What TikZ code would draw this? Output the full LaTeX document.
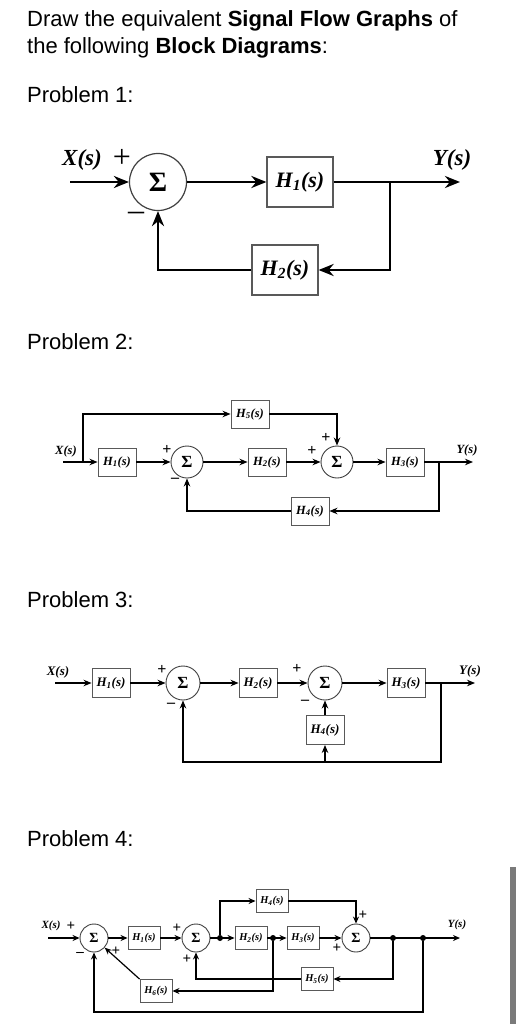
\documentclass[tikz,border=0pt]{standalone}
\usepackage{fontspec}
\setmainfont{Liberation Sans}
\newfontfamily\blockfont{Liberation Serif}
\usetikzlibrary{arrows.meta}
\newcommand\bfit[1]{\fontsize{#1}{#1}\selectfont\blockfont\bfseries\itshape}
\newcommand\sigfont[1]{\fontsize{#1}{#1}\selectfont\blockfont\bfseries}

\begin{document}
\begin{tikzpicture}[x=1pt, y=-1pt,
				box/.style={draw=black!65, line width=0.9pt, inner sep=0pt, fill=white, minimum width=38pt, minimum height=28pt, font=\bfit{12.5}},
				sumnode/.style={draw=black!75, circle, line width=0.9pt, inner sep=0pt, fill=white, minimum size=32pt, font=\sigfont{17}},
				arr/.style={-{Stealth[length=8pt, width=6.5pt]}, line width=1.4pt},
				lbl/.style={inner sep=0pt, font=\bfit{12.5}},
				sign/.style={inner sep=0pt, font=\sigfont{16}},
				dot/.style={circle, fill=black, inner sep=0pt, minimum size=6pt},
				heading/.style={anchor=base west, inner sep=0pt, font=\fontsize{22}{22}\selectfont}
			]
			\path[use as bounding box, fill=white] (0,0) rectangle (519,1024);

			\node[heading] (title1) at (27,27) {Draw the equivalent \textbf{Signal Flow Graphs} of};
			\node[heading] (title2) at (27,54) {the following \textbf{Block Diagrams}:};
			\node[heading] (prob1) at (27,103) {Problem 1:};
			\node[heading] (prob2) at (27,349) {Problem 2:};
			\node[heading] (prob3) at (27,607) {Problem 3:};
			\node[heading] (prob4) at (27,846) {Problem 4:};

			\begin{scope}[box/.append style={minimum width=66pt, minimum height=50pt, line width=1.2pt, font=\bfit{22}},
					sumnode/.append style={minimum size=57pt, line width=1.2pt, font=\sigfont{28}},
					arr/.style={-{Stealth[length=15pt, width=12pt]}, line width=2.6pt},
					lbl/.append style={font=\bfit{23}},
					sign/.append style={font=\fontsize{32}{32}\selectfont\blockfont}]
				\node[sumnode] (p1sum) at (158,182) {Σ};
				\node[box] (p1h1) at (300,182) {H\textsubscript{1}(s)};
				\node[box] (p1h2) at (285,270) {H\textsubscript{2}(s)};
				\node[lbl] (p1x) at (82,160) {X(s)};
				\node[lbl] (p1y) at (452,160) {Y(s)};
				\node[sign] (p1plus) at (122,158) {+};
				\node[sign] (p1minus) at (136,216) {–};
				\coordinate (p1in) at (70,182);
				\coordinate (p1out) at (460,182);
				\coordinate (p1br) at (390,182);
				\draw[arr] (p1in) -- (p1sum);
				\draw[arr] (p1sum) -- (p1h1);
				\draw[arr] (p1h1) -- (p1out);
				\draw[arr] (p1br) |- (p1h2);
				\draw[arr] (p1h2) -| (p1sum);
			\end{scope}

			\node[lbl] (p2x) at (66,451) {X(s)};
			\node[box] (p2h1) at (117,462) {H\textsubscript{1}(s)};
			\node[sumnode] (p2s1) at (187,462) {Σ};
			\node[box] (p2h2) at (267,462) {H\textsubscript{2}(s)};
			\node[sumnode] (p2s2) at (337,462) {Σ};
			\node[box] (p2h3) at (405,462) {H\textsubscript{3}(s)};
			\node[box] (p2h5) at (250,414) {H\textsubscript{5}(s)};
			\node[box] (p2h4) at (310,511) {H\textsubscript{4}(s)};
			\node[lbl] (p2y) at (467,450) {Y(s)};
			\node[sign] (p2p1) at (167,450) {+};
			\node[sign] (p2m1) at (175,480) {–};
			\node[sign] (p2p2) at (312,451) {+};
			\node[sign] (p2p3) at (326,438) {+};
			\coordinate (p2in) at (63,462);
			\coordinate (p2br) at (83,462);
			\coordinate (p2out) at (473,462);
			\coordinate (p2fb) at (439,462);
			\draw[arr] (p2in) -- (p2h1);
			\draw[arr] (p2br) |- (p2h5);
			\draw[arr] (p2h5) -| (p2s2);
			\draw[arr] (p2h1) -- (p2s1);
			\draw[arr] (p2s1) -- (p2h2);
			\draw[arr] (p2h2) -- (p2s2);
			\draw[arr] (p2s2) -- (p2h3);
			\draw[arr] (p2h3) -- (p2out);
			\draw[arr] (p2fb) |- (p2h4);
			\draw[arr] (p2h4) -| (p2s1);

			\begin{scope}[box/.append style={minimum height=29pt, font=\bfit{13}}, sumnode/.append style={minimum size=34pt}, lbl/.append style={font=\bfit{13}}]
				\node[lbl] (p3x) at (58,672) {X(s)};
				\node[box] (p3h1) at (111,683) {H\textsubscript{1}(s)};
				\node[sumnode] (p3s1) at (183,683) {Σ};
				\node[box] (p3h2) at (258,683) {H\textsubscript{2}(s)};
				\node[sumnode] (p3s2) at (325,683) {Σ};
				\node[box] (p3h3) at (406,683) {H\textsubscript{3}(s)};
				\node[box] (p3h4) at (325,730) {H\textsubscript{4}(s)};
				\node[lbl] (p3y) at (470,671) {Y(s)};
				\node[sign] (p3p1) at (162,670) {+};
				\node[sign] (p3m1) at (171,705) {–};
				\node[sign] (p3p2) at (297,669) {+};
				\node[sign] (p3m2) at (305,702) {–};
				\coordinate (p3in) at (55,683);
				\coordinate (p3out) at (475,683);
				\coordinate (p3br) at (441,683);
				\coordinate (p3fb) at (441,762);
				\coordinate (p3mid) at (325,762);
				\draw[arr] (p3in) -- (p3h1);
				\draw[arr] (p3h1) -- (p3s1);
				\draw[arr] (p3s1) -- (p3h2);
				\draw[arr] (p3h2) -- (p3s2);
				\draw[arr] (p3s2) -- (p3h3);
				\draw[arr] (p3h3) -- (p3out);
				\draw[arr] (p3br) -- (p3fb) -| (p3s1);
				\draw[arr] (p3mid) -- (p3h4);
				\draw[arr] (p3h4) -- (p3s2);
			\end{scope}

			\begin{scope}[box/.append style={minimum width=32pt, minimum height=23pt, font=\bfit{10.5}},
					sumnode/.append style={minimum size=28pt, font=\sigfont{14}},
					arr/.style={-{Stealth[length=7pt, width=6pt]}, line width=1.2pt},
					lbl/.append style={font=\bfit{11}},
					sign/.append style={font=\sigfont{15}}]
				\node[lbl] (p4x) at (51,926) {X(s)};
				\node[sumnode] (p4s1) at (94,938) {Σ};
				\node[box] (p4h1) at (144,938) {H\textsubscript{1}(s)};
				\node[sumnode] (p4s2) at (196,938) {Σ};
				\node[box] (p4h2) at (251,938) {H\textsubscript{2}(s)};
				\node[box] (p4h3) at (303,938) {H\textsubscript{3}(s)};
				\node[sumnode] (p4s3) at (356,938) {Σ};
				\node[box] (p4h4) at (272,901) {H\textsubscript{4}(s)};
				\node[box] (p4h5) at (317,979) {H\textsubscript{5}(s)};
				\node[box] (p4h6) at (156,991) {H\textsubscript{6}(s)};
				\node[lbl] (p4y) at (457,925) {Y(s)};
				\node[dot] (p4d1) at (220,938) {};
				\node[dot] (p4d2) at (273,938) {};
				\node[dot] (p4d3) at (393,938) {};
				\node[dot] (p4d4) at (423,938) {};
				\node[sign] (p4p1) at (71,926) {+};
				\node[sign] (p4m1) at (80,954) {–};
				\node[sign] (p4p2) at (116,951) {+};
				\node[sign] (p4p3) at (177,928) {+};
				\node[sign] (p4p4) at (187,959) {+};
				\node[sign] (p4p5) at (363,915) {+};
				\node[sign] (p4p6) at (337,948) {+};
				\coordinate (p4in) at (48,938);
				\coordinate (p4out) at (460,938);
				\coordinate (p4fb) at (423,1012);
				\draw[arr] (p4in) -- (p4s1);
				\draw[arr] (p4s1) -- (p4h1);
				\draw[arr] (p4h1) -- (p4s2);
				\draw[arr] (p4s2) -- (p4h2);
				\draw[arr] (p4d1) |- (p4h4);
				\draw[arr] (p4h4) -| (p4s3);
				\draw[arr] (p4h2) -- (p4h3);
				\draw[arr] (p4h3) -- (p4s3);
				\draw[arr] (p4s3) -- (p4out);
				\draw[arr] (p4d3) |- (p4h5);
				\draw[arr] (p4h5) -| (p4s2);
				\draw[arr] (p4d2) |- (p4h6);
				\draw[arr] (p4h6.north west) -- (p4s1);
				\draw[arr] (p4d4) -- (p4fb) -| (p4s1);
			\end{scope}

			\fill[black!52] (510,867) rectangle (516,1024);
		\end{tikzpicture}
\end{document}
